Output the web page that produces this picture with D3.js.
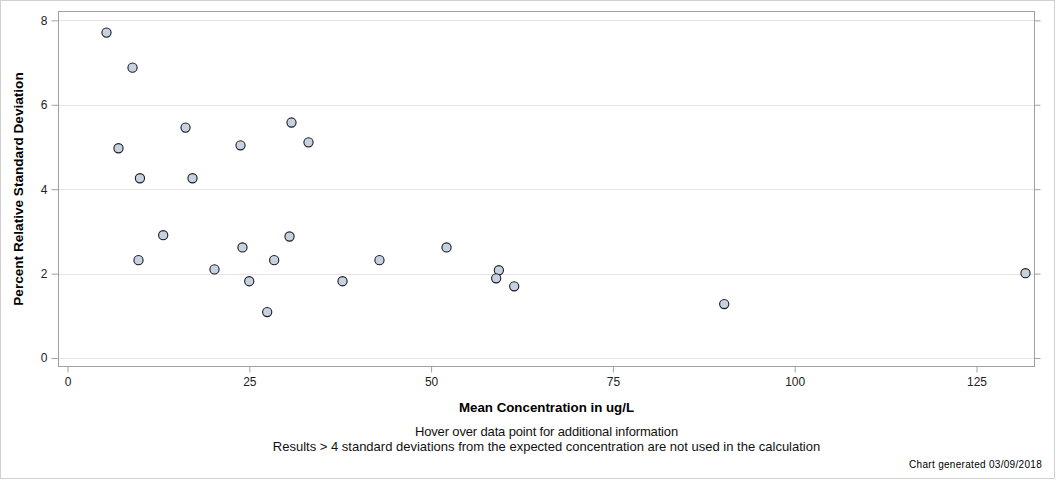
<!DOCTYPE html>
<html><head><meta charset="utf-8">
<script src="https://cdn.jsdelivr.net/npm/d3@7"></script>
<style>
html,body{margin:0;padding:0;background:#fff;}
svg{display:block;font-family:"Liberation Sans",Arial,sans-serif;}
</style></head>
<body>
<svg id="c" width="1056" height="480"></svg>
<script>
const meanConc = [5.36, 8.94, 7.01, 9.96, 9.76, 13.16, 16.23, 17.19, 20.21, 23.79, 24.06, 24.99, 27.46, 28.42, 30.53, 30.80, 33.14, 37.82, 42.9, 52.12, 59.32, 58.95, 61.43, 90.31, 131.74];
const pctRSD   = [7.71, 6.88, 4.97, 4.26, 2.32, 2.91, 5.46, 4.26, 2.10, 5.04, 2.62, 1.82, 1.09, 2.32, 2.88, 5.58, 5.11, 1.82, 2.32, 2.62, 2.08, 1.89, 1.70, 1.28, 2.01];
const xTicks = [0, 25, 50, 75, 100, 125];
const yTicks = [0, 2, 4, 6, 8];
const xTitle = "Mean Concentration in ug/L";
const yTitle = "Percent Relative Standard Deviation";
const notes = ["Hover over data point for additional information",
               "Results > 4 standard deviations from the expected concentration are not used in the calculation"];
const stamp = "Chart generated 03/09/2018";

const svg = d3.select("#c");
const L = 58.5, R = 1034.5, T = 11.5, B = 366.5;

svg.append("rect").attr("x",0.5).attr("y",0.5).attr("width",1054).attr("height",478)
  .attr("fill","#fff").attr("stroke","#d0d0d0");

const x = d3.scaleLinear().domain([-1.24, 132.98]).range([L, R]);
const y = d3.scaleLinear().domain([-0.2, 8.21]).range([B, T]);

// gridlines
svg.append("g").selectAll("line").data(yTicks).join("line")
  .attr("x1", L).attr("x2", R)
  .attr("y1", d => Math.round(y(d)) + 0.5).attr("y2", d => Math.round(y(d)) + 0.5)
  .attr("stroke", "#e4e4e4");

// frame
svg.append("rect").attr("x", L).attr("y", T).attr("width", R - L).attr("height", B - T)
  .attr("fill", "none").attr("stroke", "#a0a0a0");

function styleAxis(g){
  g.select(".domain").remove();
  g.selectAll(".tick line").attr("stroke","#a0a0a0");
  g.selectAll(".tick text").attr("fill","#222").style("font-size","12px")
   .style("font-family","'Liberation Sans',Arial,sans-serif");
}

svg.append("g").attr("transform", `translate(0,${B})`)
  .call(d3.axisBottom(x).tickValues(xTicks).tickSize(6).tickPadding(5).tickFormat(d3.format("d")))
  .call(styleAxis);

svg.append("g").attr("transform", `translate(${L},0)`)
  .call(d3.axisLeft(y).tickValues(yTicks).tickSize(7).tickPadding(4).tickFormat(d3.format("d")))
  .call(styleAxis);

svg.append("g").attr("transform", `translate(${R},0)`)
  .call(d3.axisRight(y).tickValues(yTicks).tickSize(6).tickFormat(""))
  .call(styleAxis);

// points
svg.append("g").selectAll("circle").data(meanConc.map((v,i)=>[v,pctRSD[i]])).join("circle")
  .attr("cx", d => x(d[0])).attr("cy", d => y(d[1])).attr("r", 4.6)
  .attr("fill", "#c6d1e1").attr("stroke", "#1a1a1a").attr("stroke-width", 1.1);

// titles
svg.append("text").attr("x", (L+R)/2).attr("y", 412).attr("text-anchor","middle")
  .style("font-size","13.3px").style("font-weight","bold").attr("fill","#000").text(xTitle);
svg.append("text").attr("transform", `translate(23,${(T+B)/2}) rotate(-90)`).attr("text-anchor","middle")
  .style("font-size","13.6px").style("font-weight","bold").attr("fill","#000").text(yTitle);

svg.append("g").selectAll("text").data(notes).join("text")
  .attr("x", (L+R)/2).attr("y", (d,i) => 435.5 + i*15).attr("text-anchor","middle")
  .style("font-size","13px").style("letter-spacing", (d,i) => i === 0 ? "-0.15px" : "0px")
  .attr("fill","#111").text(d => d);

svg.append("text").attr("x", 1042).attr("y", 468).attr("text-anchor","end")
  .style("font-size","10px").style("letter-spacing","0.3px").attr("fill","#000").text(stamp);
</script>
</body></html>
